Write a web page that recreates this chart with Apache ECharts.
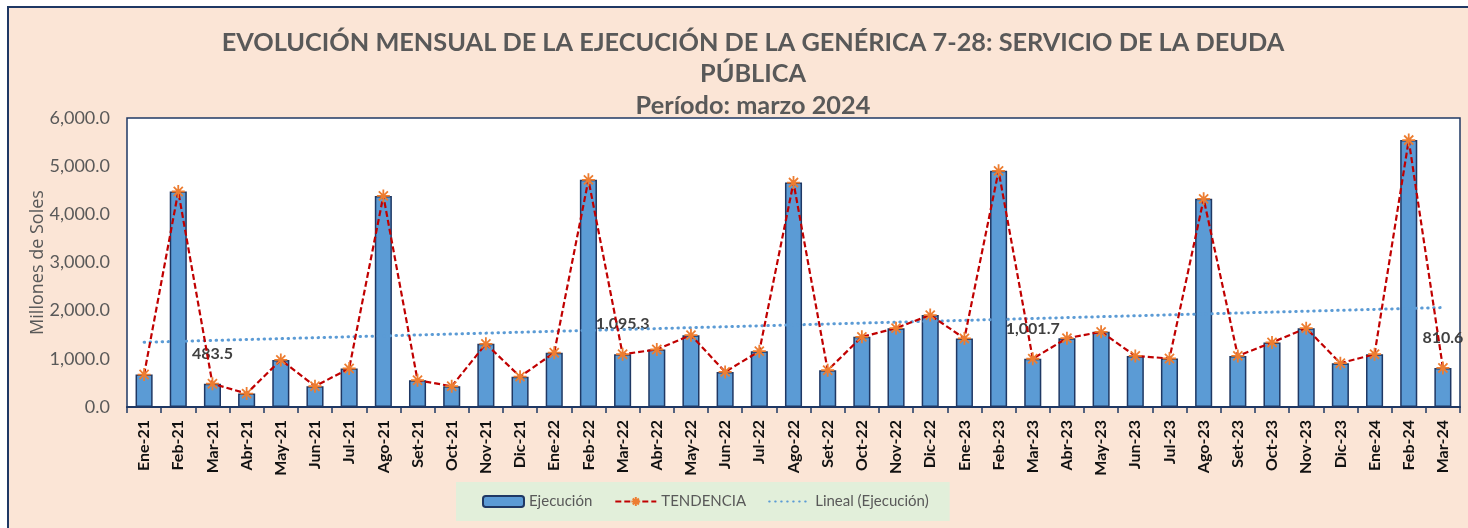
<!DOCTYPE html>
<html>
<head>
<meta charset="utf-8">
<script src="https://cdn.jsdelivr.net/npm/echarts@6/dist/echarts.min.js"></script>
<style>
  html, body { margin: 0; padding: 0; background: #fff; overflow: hidden; }
  #wrap { position: absolute; left: 7px; top: 6px; width: 1470px; height: 530px;
          border-left: 2px solid #1F3864; border-top: 2px solid #1F3864; background: #FBE5D6; }
  #chart { position: absolute; left: 0; top: 0; width: 1468px; height: 528px; }
</style>
</head>
<body>
<div id="wrap"></div>
<div id="chart"></div>
<script>
// meses
var meses = ["Ene-21","Feb-21","Mar-21","Abr-21","May-21","Jun-21","Jul-21","Ago-21","Set-21","Oct-21","Nov-21","Dic-21",
  "Ene-22","Feb-22","Mar-22","Abr-22","May-22","Jun-22","Jul-22","Ago-22","Set-22","Oct-22","Nov-22","Dic-22",
  "Ene-23","Feb-23","Mar-23","Abr-23","May-23","Jun-23","Jul-23","Ago-23","Set-23","Oct-23","Nov-23","Dic-23",
  "Ene-24","Feb-24","Mar-24"];
// ejecución en millones de soles
var ejecucion = [674, 4474, 483.5, 279, 978, 431, 799, 4383, 555, 431, 1311, 630,
  1127, 4716, 1095.3, 1194, 1492, 728, 1159, 4660, 763, 1456, 1637, 1908,
  1423, 4903, 1001.7, 1429, 1560, 1061, 1007, 4321, 1061, 1340, 1637, 909,
  1096, 5542, 810.6];
// meses con etiqueta
var etiquetados = ["Mar-21", "Mar-22", "Mar-23", "Mar-24"];
var yTicks = [0, 1000, 2000, 3000, 4000, 5000, 6000];

// tendencia lineal (mínimos cuadrados)
var n = ejecucion.length, sx = 0, sy = 0, sxy = 0, sxx = 0;
ejecucion.forEach(function (v, i) { sx += i; sy += v; sxy += i * v; sxx += i * i; });
var pend = (n * sxy - sx * sy) / (n * sxx - sx * sx);
var inter = (sy - pend * sx) / n;
var lineal = ejecucion.map(function (v, i) { return +(inter + pend * i).toFixed(1); });

function fmt(v) {
  return Number(v).toLocaleString("en-US", { minimumFractionDigits: 1, maximumFractionDigits: 1 });
}

var barData = ejecucion.map(function (v, i) {
  var item = { value: v };
  if (etiquetados.indexOf(meses[i]) >= 0) {
    item.label = {
      show: true, position: "top", distance: 22,
      formatter: function (p) { return fmt(p.value); },
      color: "#404040", fontWeight: "bold", fontSize: 16, fontFamily: "Lato"
    };
  }
  return item;
});

var asterisco = "path://M5,0 L5,10 M0,5 L10,5 M1.5,1.5 L8.5,8.5 M8.5,1.5 L1.5,8.5";

var myChart = echarts.init(document.getElementById("chart"), null, { renderer: "canvas" });
var option = {
  backgroundColor: "transparent",
  textStyle: { fontFamily: "Lato" },
  title: {
    text: "EVOLUCIÓN MENSUAL DE LA EJECUCIÓN DE LA GENÉRICA 7-28: SERVICIO DE LA DEUDA\nPÚBLICA\nPeríodo: marzo 2024",
    left: 748, top: 22, textAlign: "center",
    textStyle: { fontFamily: "Lato", fontWeight: "bold", fontSize: 25.3, color: "#595959", lineHeight: 31.5, align: "center" }
  },
  legend: {
    left: 456, top: 482,
    padding: [12, 21, 12, 26],
    backgroundColor: "#E2EFDA",
    itemGap: 22, itemWidth: 41, itemHeight: 11,
    textStyle: { color: "#595959", fontSize: 15, fontFamily: "Lato" },
    data: [
      { name: "Ejecución" },
      { name: "TENDENCIA" },
      { name: "Lineal (Ejecución)", itemStyle: { opacity: 0 } }
    ]
  },
  grid: {
    left: 127, top: 118, right: 8, bottom: 121,
    show: true, backgroundColor: "#fff", borderColor: "#1F3864", borderWidth: 1.5
  },
  xAxis: {
    type: "category", data: meses,
    axisLine: { lineStyle: { color: "#1F3864", width: 2 } },
    axisTick: { show: true, length: 6, lineStyle: { color: "#1F3864", width: 1.5 } },
    axisLabel: { rotate: 90, color: "#111", fontWeight: "bold", fontSize: 16, margin: 13, fontFamily: "Lato" }
  },
  yAxis: {
    type: "value", min: yTicks[0], max: yTicks[yTicks.length - 1], interval: 1000,
    name: "Millones de Soles", nameLocation: "middle", nameGap: 80, nameRotate: 90,
    nameMoveOverlap: false,
    nameTextStyle: { color: "#595959", fontSize: 18, fontFamily: "Open Sans" },
    axisLine: { show: false }, axisTick: { show: false },
    splitLine: { show: false },
    axisLabel: { color: "#595959", fontSize: 18, margin: 17, formatter: fmt, fontFamily: "Lato" }
  },
  series: [
    {
      name: "Ejecución", type: "bar", data: barData, barWidth: "50%",
      itemStyle: { color: "#5B9BD5", borderColor: "#1F3864", borderWidth: 1.5 },
      z: 2
    },
    {
      name: "Lineal (Ejecución)", type: "line", data: lineal,
      symbol: "none", silent: true,
      itemStyle: { color: "#5B9BD5" },
      lineStyle: { color: "#5B9BD5", width: 3, type: [0.5, 5.5], cap: "round" },
      z: 3
    },
    {
      name: "TENDENCIA", type: "line", data: ejecucion,
      symbol: asterisco, symbolSize: 13,
      itemStyle: { color: "#ED7D31", borderColor: "#ED7D31", borderWidth: 1.8 },
      lineStyle: { color: "#C00000", width: 2.2, type: [6, 3] },
      z: 4
    }
  ]
};
myChart.setOption(option);
</script>
</body>
</html>
